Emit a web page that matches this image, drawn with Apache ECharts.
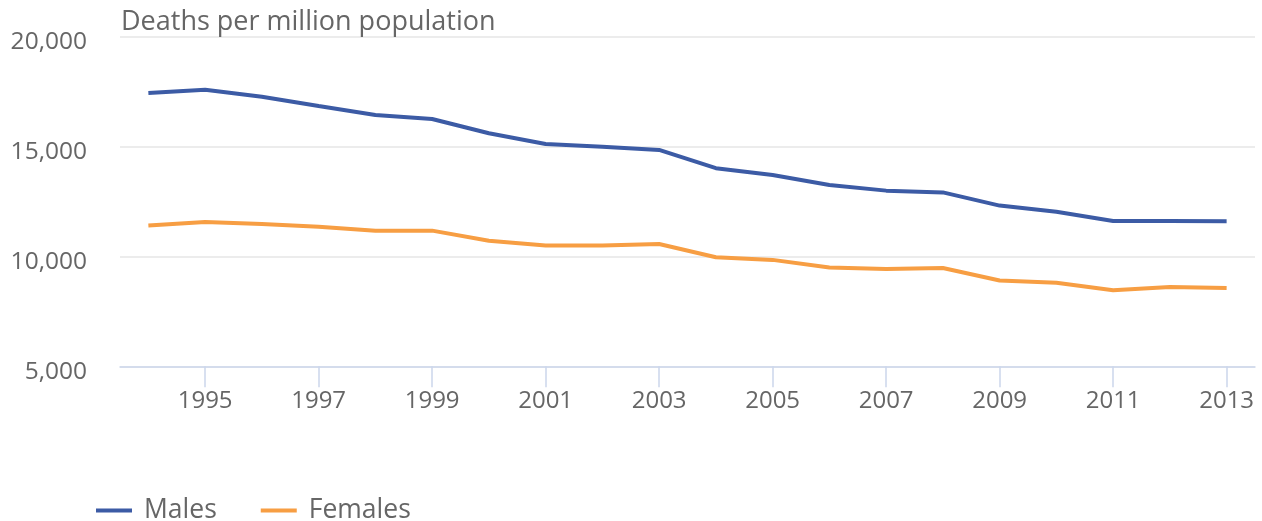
<!DOCTYPE html>
<html>
<head>
<meta charset="utf-8">
<script src="https://cdn.jsdelivr.net/npm/echarts@6/dist/echarts.min.js"></script>
<style>
html,body{margin:0;padding:0;background:#fff;}
#main{width:1262px;height:521px;}
</style>
</head>
<body>
<div id="main"></div>
<script>
var years = ['1994','1995','1996','1997','1998','1999','2000','2001','2002','2003','2004','2005','2006','2007','2008','2009','2010','2011','2012','2013'];
var males = [17430,17580,17260,16840,16430,16250,15600,15110,14990,14840,14010,13700,13250,12990,12910,12310,12030,11610,11610,11600];
var females = [11400,11560,11470,11350,11170,11170,10710,10490,10490,10560,9960,9840,9490,9430,9470,8900,8800,8460,8610,8560];
var yTicks = [5000,10000,15000,20000];
var yTitle = 'Deaths per million population';

var FONT = '"Open Sans", "Noto Sans", sans-serif';
var chart = echarts.init(document.getElementById('main'), null, {renderer:'canvas'});
chart.setOption({
  animation: false,
  backgroundColor: '#ffffff',
  textStyle: {fontFamily: FONT},
  title: {
    text: yTitle,
    left: 116, top: 4,
    textStyle: {fontFamily: FONT, fontSize: 27, fontWeight: 'normal', color: '#666666'}
  },
  legend: {
    left: 91, top: 492,
    icon: 'rect', itemWidth: 36, itemHeight: 4, itemGap: 44,
    textStyle: {fontFamily: FONT, fontSize: 26.5, color: '#666666', padding: [0,0,0,7]},
    data: ['Males','Females']
  },
  grid: {left: 120, right: 7, top: 36.5, bottom: 154.7, containLabel: false, outerBoundsMode: 'none'},
  xAxis: {
    type: 'category',
    data: years,
    boundaryGap: true,
    axisLine: {lineStyle: {color: '#ccd6eb', width: 1.5}},
    axisTick: {show: true, length: 21, alignWithLabel: true, lineStyle: {color: '#ccd6eb', width: 1.5},
      interval: function(i, v){ return (+v) % 2 === 1; }},
    axisLabel: {fontFamily: FONT, fontSize: 24, color: '#666666', margin: 23,
      interval: function(i, v){ return (+v) % 2 === 1; }},
    splitLine: {show: false}
  },
  yAxis: {
    type: 'value',
    min: yTicks[0], max: yTicks[yTicks.length-1], interval: 5000,
    axisLine: {show: false},
    axisTick: {show: false},
    axisLabel: {fontFamily: FONT, fontSize: 24.5, color: '#666666', margin: 33,
      verticalAlign: 'top', lineHeight: 12,
      formatter: function(v){ return v.toLocaleString('en-US'); }},
    splitLine: {lineStyle: {color: '#e6e6e6', width: 1.5}}
  },
  series: [
    {name: 'Males', type: 'line', data: males, showSymbol: false, symbol: 'none',
      color: '#3c5ba5', lineStyle: {width: 4, color: '#3c5ba5'}},
    {name: 'Females', type: 'line', data: females, showSymbol: false, symbol: 'none',
      color: '#f79e43', lineStyle: {width: 4, color: '#f79e43'}}
  ]
});
</script>
</body>
</html>
